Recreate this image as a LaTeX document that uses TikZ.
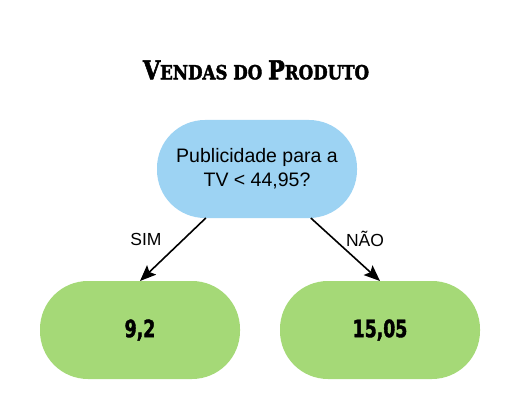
\documentclass[tikz,border=0pt]{standalone}
\usepackage{fontspec}
\setmainfont{Liberation Sans}
\newfontfamily\titlefont[FakeStretch=0.95,FakeBold=2]{DejaVu Serif Condensed}
\newfontfamily\numfont[FakeStretch=0.8,FakeBold=1.5]{DejaVu Sans Condensed}
\usetikzlibrary{arrows.meta}
\definecolor{azul}{RGB}{157,211,243}
\definecolor{verde}{RGB}{165,217,119}
\newcommand{\grande}[1]{{\fontsize{26}{26}\selectfont #1}}
\newcommand{\pequeno}[1]{{\fontsize{19.5}{19.5}\selectfont #1}}

\begin{document}
\begin{tikzpicture}[x=1pt, y=-1pt, outer sep=0pt]
\useasboundingbox (0,0) rectangle (520,420);

\tikzstyle{caixa}=[rectangle, rounded corners=48pt, minimum width=200pt, minimum height=98pt, inner sep=0pt]
\tikzstyle{folha}=[caixa, fill=verde, font=\numfont\bfseries\fontsize{24}{24}\selectfont]
\tikzstyle{seta}=[-{Stealth[length=16pt,width=13pt,inset=3pt]}, line width=1.6pt]
\tikzstyle{rotulo}=[font=\fontsize{17.5}{20}\selectfont]

\node (titulo) at (256,70) {\titlefont\bfseries \grande{V}\pequeno{ENDAS DO }\grande{P}\pequeno{RODUTO}};
\node[caixa, fill=azul, align=center, font=\fontsize{19.5}{24}\selectfont] (raiz) at (257,169) {Publicidade para a\\TV < 44,95?};
\node[folha] (folha1) at (140,330) {9,2}; \node[folha] (folha2) at (380,330) {15,05};

\draw[seta] (raiz) -- (folha1.north);
\draw[seta] (raiz) -- (folha2.north);
\node[rotulo] (sim) at (146,239) {SIM}; \node[rotulo] (nao) at (365,239) {NÃO};

\end{tikzpicture}
\end{document}
